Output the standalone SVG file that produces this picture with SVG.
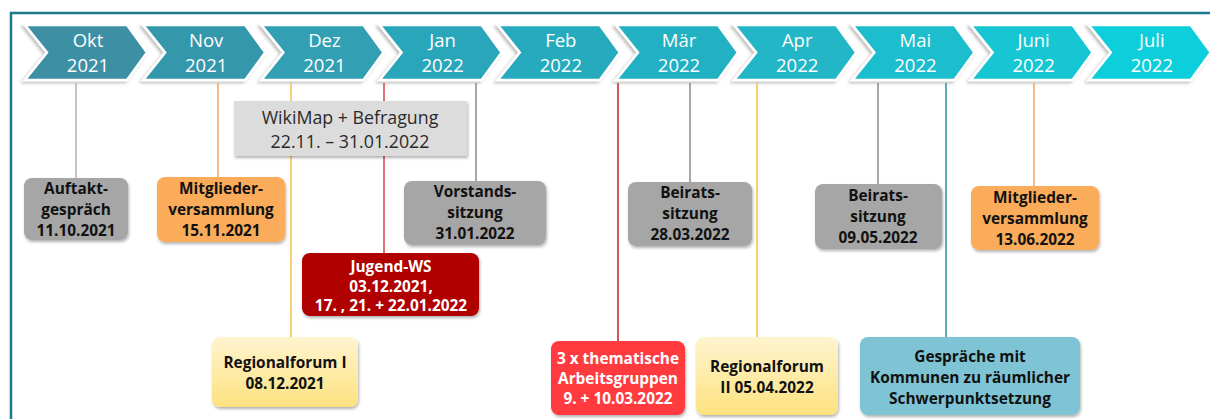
<svg xmlns="http://www.w3.org/2000/svg" width="1210" height="419" viewBox="0 0 1210 419">
<defs>
<filter id="sh" x="-10%" y="-10%" width="130%" height="140%">
<feDropShadow dx="1" dy="2" stdDeviation="1.5" flood-color="#000" flood-opacity="0.3"/>
</filter>
<filter id="csh" x="-10%" y="-10%" width="130%" height="140%">
<feDropShadow dx="-2" dy="2" stdDeviation="1.5" flood-color="#000" flood-opacity="0.25"/>
</filter>
<linearGradient id="yel" x1="0" y1="0" x2="0" y2="1">
<stop offset="0" stop-color="#fff4d0"/>
<stop offset="1" stop-color="#fde27f"/>
</linearGradient>
<path id="chev" d="M0,25 H102 L122,52.5 L102,80 H0 L22,52.5 Z"/>
</defs>
<style>
.chev{stroke:#fff;stroke-width:2.5;stroke-linejoin:miter;filter:url(#csh)}
.ct{font-family:"Open Sans","Liberation Sans",sans-serif;font-size:18.5px;fill:#fff;text-anchor:middle}
.box{filter:url(#sh)}
.bt{font-family:"Open Sans","Liberation Sans",sans-serif;font-size:15.4px;font-weight:bold;fill:#111;text-anchor:middle}
.wt{fill:#fff}
.ln{stroke-width:1.5;fill:none}
.wm{font-family:"Open Sans","Liberation Sans",sans-serif;font-size:17.8px;fill:#2a2a2a;text-anchor:middle}
</style>
<rect width="1210" height="419" fill="#fff"/>
<path d="M11,419 V13 H1210" fill="none" stroke="#1b7a8c" stroke-width="2.5"/>

<g id="timeline">
<g transform="translate(25,0)"><use href="#chev" class="chev" fill="#3c8fa3"/><text class="ct" x="63" y="47">Okt</text><text class="ct" x="63" y="72">2021</text></g>
<g transform="translate(143.2,0)"><use href="#chev" class="chev" fill="#3597ac"/><text class="ct" x="63" y="47">Nov</text><text class="ct" x="63" y="72">2021</text></g>
<g transform="translate(261.4,0)"><use href="#chev" class="chev" fill="#309fb3"/><text class="ct" x="63" y="47">Dez</text><text class="ct" x="63" y="72">2021</text></g>
<g transform="translate(379.6,0)"><use href="#chev" class="chev" fill="#2ba6ba"/><text class="ct" x="63" y="47">Jan</text><text class="ct" x="63" y="72">2022</text></g>
<g transform="translate(497.8,0)"><use href="#chev" class="chev" fill="#27abbe"/><text class="ct" x="63" y="47">Feb</text><text class="ct" x="63" y="72">2022</text></g>
<g transform="translate(616,0)"><use href="#chev" class="chev" fill="#23b1c3"/><text class="ct" x="63" y="47">Mär</text><text class="ct" x="63" y="72">2022</text></g>
<g transform="translate(734.2,0)"><use href="#chev" class="chev" fill="#20b6c7"/><text class="ct" x="63" y="47">Apr</text><text class="ct" x="63" y="72">2022</text></g>
<g transform="translate(852.4,0)"><use href="#chev" class="chev" fill="#1bbdcd"/><text class="ct" x="63" y="47">Mai</text><text class="ct" x="63" y="72">2022</text></g>
<g transform="translate(970.6,0)"><use href="#chev" class="chev" fill="#16c6d3"/><text class="ct" x="63" y="47">Juni</text><text class="ct" x="63" y="72">2022</text></g>
<g transform="translate(1088.8,0)"><use href="#chev" class="chev" fill="#11cfdb"/><text class="ct" x="63" y="47">Juli</text><text class="ct" x="63" y="72">2022</text></g>
</g>

<g id="connectors">
<line class="ln" x1="76" y1="83" x2="76" y2="178" stroke="#b0b0b0"/>
<line class="ln" x1="218" y1="83" x2="218" y2="177" stroke="#f4a460"/>
<line class="ln" x1="291" y1="83" x2="291" y2="337" stroke="#f5c242"/>
<line class="ln" x1="384" y1="83" x2="384" y2="253" stroke="#d9404a"/>
<line class="ln" x1="476" y1="83" x2="476" y2="181" stroke="#8a8a8a"/>
<line class="ln" x1="618" y1="83" x2="618" y2="341" stroke="#c0202a"/>
<line class="ln" x1="690" y1="83" x2="690" y2="182" stroke="#8a8a8a"/>
<line class="ln" x1="757" y1="83" x2="757" y2="337" stroke="#f5c242"/>
<line class="ln" x1="878" y1="83" x2="878" y2="184" stroke="#8a8a8a"/>
<line class="ln" x1="946" y1="83" x2="946" y2="337" stroke="#2a8ca0"/>
<line class="ln" x1="1034" y1="83" x2="1034" y2="186" stroke="#f4a460"/>
</g>

<g id="wikimap">
<rect x="234" y="101" width="233" height="55" fill="#dcdcdc" filter="url(#sh)"/>
<text class="wm" x="350" y="124">WikiMap + Befragung</text>
<text class="wm" x="350" y="148">22.11. – 31.01.2022</text>
</g>

<g id="auftakt">
<rect class="box" x="24" y="178" width="104" height="62" rx="8" fill="#a6a6a6"/>
<text class="bt" x="76" y="194">Auftakt-</text>
<text class="bt" x="76" y="215">gespräch</text>
<text class="bt" x="76" y="236">11.10.2021</text>
</g>

<g id="mitglieder1">
<rect class="box" x="157" y="177" width="128" height="65" rx="8" fill="#fbac5a"/>
<text class="bt" x="221" y="194">Mitglieder-</text>
<text class="bt" x="221" y="215">versammlung</text>
<text class="bt" x="221" y="236">15.11.2021</text>
</g>

<g id="vorstand">
<rect class="box" x="404" y="181" width="142" height="64" rx="8" fill="#a6a6a6"/>
<text class="bt" x="475" y="197">Vorstands-</text>
<text class="bt" x="475" y="218">sitzung</text>
<text class="bt" x="475" y="239">31.01.2022</text>
</g>

<g id="beirat1">
<rect class="box" x="628" y="182" width="124" height="64" rx="8" fill="#a6a6a6"/>
<text class="bt" x="690" y="198">Beirats-</text>
<text class="bt" x="690" y="219">sitzung</text>
<text class="bt" x="690" y="240">28.03.2022</text>
</g>

<g id="beirat2">
<rect class="box" x="815" y="184" width="127" height="65" rx="8" fill="#a6a6a6"/>
<text class="bt" x="878" y="201">Beirats-</text>
<text class="bt" x="878" y="222">sitzung</text>
<text class="bt" x="878" y="243">09.05.2022</text>
</g>

<g id="mitglieder2">
<rect class="box" x="971" y="186" width="128" height="64" rx="8" fill="#fbac5a"/>
<text class="bt" x="1035" y="203">Mitglieder-</text>
<text class="bt" x="1035" y="224">versammlung</text>
<text class="bt" x="1035" y="245">13.06.2022</text>
</g>

<g id="jugend">
<rect class="box" x="302" y="253" width="177" height="63" rx="8" fill="#b00000"/>
<text class="bt wt" x="391" y="272">Jugend-WS</text>
<text class="bt wt" x="391" y="292">03.12.2021,</text>
<text class="bt wt" x="391" y="311">17. , 21. + 22.01.2022</text>
</g>

<g id="regional1">
<rect class="box" x="212" y="337" width="146" height="70" rx="8" fill="url(#yel)"/>
<text class="bt" x="285" y="368">Regionalforum I</text>
<text class="bt" x="285" y="389">08.12.2021</text>
</g>

<g id="arbeitsgruppen">
<rect class="box" x="551" y="341" width="134" height="74" rx="8" fill="#ff3a40"/>
<text class="bt wt" x="618" y="364">3 x thematische</text>
<text class="bt wt" x="618" y="384">Arbeitsgruppen</text>
<text class="bt wt" x="618" y="404">9. + 10.03.2022</text>
</g>

<g id="regional2">
<rect class="box" x="696" y="337" width="142" height="78" rx="8" fill="url(#yel)"/>
<text class="bt" x="767" y="372">Regionalforum</text>
<text class="bt" x="767" y="393">II 05.04.2022</text>
</g>

<g id="gespraeche">
<rect class="box" x="860" y="337" width="220" height="78" rx="8" fill="#7fc4d4"/>
<text class="bt" x="970" y="362">Gespräche mit</text>
<text class="bt" x="970" y="383">Kommunen zu räumlicher</text>
<text class="bt" x="970" y="404">Schwerpunktsetzung</text>
</g>
</svg>
